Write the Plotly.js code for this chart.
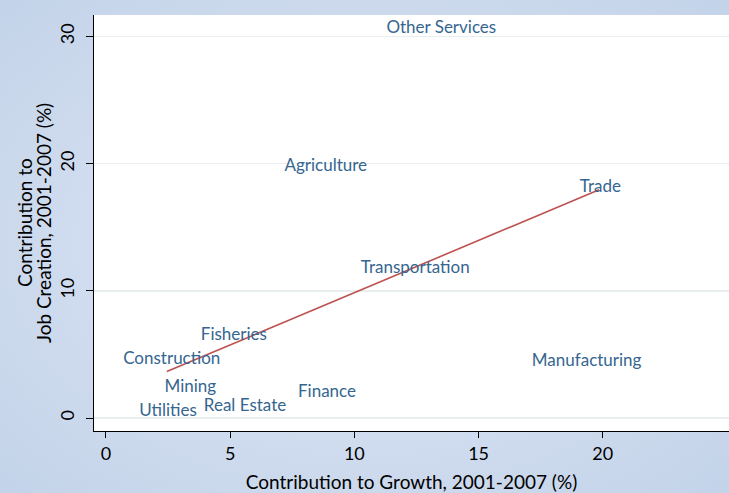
<!DOCTYPE html>
<html>
<head>
<meta charset="utf-8">
<script src="https://cdn.plot.ly/plotly-3.0.1.min.js"></script>
<style>
  html, body { margin: 0; padding: 0; }
  body {
    width: 729px; height: 493px; overflow: hidden;
    background: radial-gradient(ellipse at 50% 50%, #e0e8f3 0%, #d3def0 45%, #c3d3e9 100%);
  }
  #chart { width: 729px; height: 493px; }
</style>
</head>
<body>
<div id="chart"></div>
<script>
const sectors = ["Other Services", "Agriculture", "Trade", "Transportation", "Fisheries",
                 "Construction", "Manufacturing", "Mining", "Finance", "Utilities", "Real Estate"];
const growth = [13.5, 8.85, 19.9, 12.45, 5.15, 2.65, 19.35, 3.4, 8.9, 2.5, 5.6];
const jobs   = [30.6, 19.75, 18.1, 11.7, 6.5, 4.55, 4.45, 2.35, 2.0, 0.5, 0.85];

const fitX = [2.45, 19.85];
const fitY = [3.65, 17.95];

const xTicks = [0, 5, 10, 15, 20];
const yTicks = [0, 10, 20, 30];

const xTitle = "Contribution to Growth, 2001-2007 (%)";
const yTitleLines = ["Contribution to", "Job Creation, 2001-2007 (%)"];

const fontFam = "Lato, 'Open Sans', sans-serif";

const traces = [
  {
    x: fitX, y: fitY, type: "scatter", mode: "lines",
    line: { color: "#bd514f", width: 1.6 },
    hoverinfo: "skip", showlegend: false
  },
  {
    x: growth, y: jobs, text: sectors, type: "scatter", mode: "text",
    textposition: "middle center",
    textfont: { family: fontFam, size: 17, color: "#35668f" },
    showlegend: false
  }
];

const layout = {
  width: 729, height: 493,
  margin: { l: 94, r: 0, t: 15, b: 62 },
  paper_bgcolor: "rgba(0,0,0,0)",
  plot_bgcolor: "#ffffff",
  showlegend: false,
  font: { family: fontFam, color: "#000000" },
  xaxis: {
    range: [-0.48, 25.08],
    tickvals: xTicks,
    ticktext: xTicks.map(String),
    ticks: "outside", ticklen: 6, tickwidth: 1, tickcolor: "#000",
    showline: true, linecolor: "#000", linewidth: 1,
    showgrid: false, zeroline: false,
    tickfont: { family: fontFam, size: 18, color: "#000" },
    title: { text: xTitle, font: { family: fontFam, size: 19, color: "#000" }, standoff: 14 }
  },
  yaxis: {
    range: [-1.02, 31.69],
    tickvals: yTicks,
    ticktext: yTicks.map(String),
    tickangle: -90,
    ticklabelstandoff: 5,
    ticks: "outside", ticklen: 7, tickwidth: 1, tickcolor: "#000",
    showline: true, linecolor: "#000", linewidth: 1,
    showgrid: true, gridcolor: "#e9efef", gridwidth: 1.5,
    zeroline: false,
    tickfont: { family: fontFam, size: 18, color: "#000" }
  },
  annotations: [
    { text: yTitleLines[0], xref: "paper", yref: "paper", x: -94 / 635 + 24 / 635, y: 0.5,
      xanchor: "center", yanchor: "middle", textangle: -90, showarrow: false,
      font: { family: fontFam, size: 19, color: "#000" } },
    { text: yTitleLines[1], xref: "paper", yref: "paper", x: -94 / 635 + 43 / 635, y: 0.5,
      xanchor: "center", yanchor: "middle", textangle: -90, showarrow: false,
      font: { family: fontFam, size: 19, color: "#000" } }
  ]
};

Plotly.newPlot("chart", traces, layout, { displayModeBar: false, staticPlot: true });
</script>
</body>
</html>
